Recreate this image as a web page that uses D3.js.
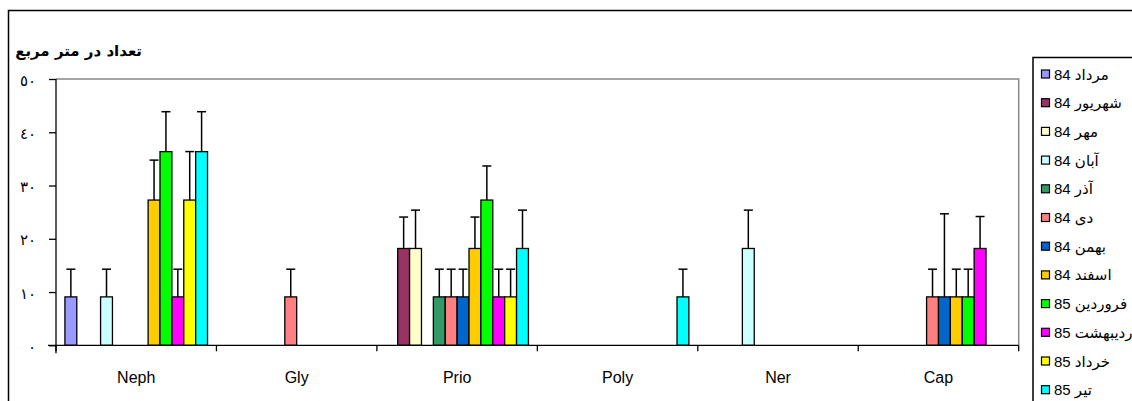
<!DOCTYPE html>
<html>
<head>
<meta charset="utf-8">
<script src="https://cdn.jsdelivr.net/npm/d3@7"></script>
<style>
  html, body { margin: 0; padding: 0; background: #fff; }
  svg { display: block; }
</style>
</head>
<body>
<svg id="chart" width="1132" height="401"></svg>
<script>
// ---- data ----
const categories = ["Neph", "Gly", "Prio", "Poly", "Ner", "Cap"];
const seriesNames = ["84 مرداد", "84 شهریور", "84 مهر", "84 آبان", "84 آذر", "84 دی",
                     "84 بهمن", "84 اسفند", "85 فروردین", "85 اردیبهشت", "85 خرداد", "85 تیر"];
const seriesColors = ["#9999FF", "#993366", "#FFFFCC", "#CCFFFF", "#339966", "#FF8080",
                      "#0066CC", "#FFCC00", "#00FF00", "#FF00FF", "#FFFF00", "#00FFFF"];
// values[series][category]
const valMordad   = [9.09, 0, 0, 0, 0, 0];
const valShahrivar= [0, 0, 18.18, 0, 0, 0];
const valMehr     = [0, 0, 18.18, 0, 0, 0];
const valAban     = [9.09, 0, 0, 0, 18.18, 0];
const valAzar     = [0, 0, 9.09, 0, 0, 0];
const valDey      = [0, 9.09, 9.09, 0, 0, 9.09];
const valBahman   = [0, 0, 9.09, 0, 0, 9.09];
const valEsfand   = [27.27, 0, 18.18, 0, 0, 9.09];
const valFarvardin= [36.36, 0, 27.27, 0, 0, 9.09];
const valOrdibehesht=[9.09, 0, 9.09, 0, 0, 18.18];
const valKhordad  = [27.27, 0, 9.09, 0, 0, 0];
const valTir      = [36.36, 0, 18.18, 9.09, 0, 0];
// upper error lengths
const errMordad   = [5.2, 0, 0, 0, 0, 0];
const errShahrivar= [0, 0, 5.9, 0, 0, 0];
const errMehr     = [0, 0, 7.2, 0, 0, 0];
const errAban     = [5.2, 0, 0, 0, 7.2, 0];
const errAzar     = [0, 0, 5.2, 0, 0, 0];
const errDey      = [0, 5.2, 5.2, 0, 0, 5.2];
const errBahman   = [0, 0, 5.2, 0, 0, 15.6];
const errEsfand   = [7.5, 0, 5.9, 0, 0, 5.2];
const errFarvardin= [7.5, 0, 6.4, 0, 0, 5.2];
const errOrdibehesht=[5.2, 0, 5.2, 0, 0, 6.0];
const errKhordad  = [9.1, 0, 5.2, 0, 0, 0];
const errTir      = [7.5, 0, 7.2, 5.2, 0, 0];
const yTicks = [0, 10, 20, 30, 40, 50];
const yTickLabels = ["٠", "١٠", "٢٠", "٣٠", "٤٠", "٥٠"];
const yTitle = "تعداد در متر مربع";

const values = [valMordad, valShahrivar, valMehr, valAban, valAzar, valDey, valBahman,
                valEsfand, valFarvardin, valOrdibehesht, valKhordad, valTir];
const errors = [errMordad, errShahrivar, errMehr, errAban, errAzar, errDey, errBahman,
                errEsfand, errFarvardin, errOrdibehesht, errKhordad, errTir];

// ---- layout ----
const svg = d3.select("#chart");
const plot = { left: 56, right: 1018.7, top: 79, bottom: 345.3 };

const x0 = d3.scaleBand().domain(categories).range([plot.left, plot.right]).padding(0);
const catW = x0.bandwidth();
const barW = catW / 13.5;
const x1 = d3.scaleBand().domain(d3.range(seriesNames.length))
  .range([barW * 0.75, barW * 0.75 + barW * 12]).padding(0);
const y = d3.scaleLinear().domain([0, 50]).range([plot.bottom, plot.top]);

// outer border
svg.append("rect").attr("x", 8.5).attr("y", 10.5).attr("width", 1130).attr("height", 400)
  .attr("fill", "none").attr("stroke", "#000").attr("stroke-width", 1.5);

// plot area border (top & right)
svg.append("path")
  .attr("d", `M${plot.left},${plot.top}H${plot.right}V${plot.bottom}`)
  .attr("fill", "none").attr("stroke", "#888").attr("stroke-width", 1.5);

// title
svg.append("text").attr("x", 142).attr("y", 56)
  .attr("text-anchor", "end")
  .attr("font-family", "DejaVu Sans, Noto Sans, sans-serif")
  .attr("font-weight", "bold").attr("font-size", 15)
  .text(yTitle);

// bars
const data = [];
categories.forEach((c, ci) => {
  seriesNames.forEach((s, si) => {
    data.push({ c, si, v: values[si][ci], e: errors[si][ci] });
  });
});

const g = svg.append("g");
g.selectAll("rect.bar").data(data).join("rect").attr("class", "bar")
  .attr("x", d => x0(d.c) + x1(d.si))
  .attr("y", d => y(d.v))
  .attr("width", x1.bandwidth())
  .attr("height", d => y(0) - y(d.v))
  .attr("fill", d => seriesColors[d.si])
  .attr("stroke", "#000").attr("stroke-width", 1.3);

// error bars
const eb = g.selectAll("g.err").data(data.filter(d => d.v > 0 && d.e > 0)).join("g").attr("class", "err");
eb.append("line")
  .attr("x1", d => x0(d.c) + x1(d.si) + x1.bandwidth() / 2)
  .attr("x2", d => x0(d.c) + x1(d.si) + x1.bandwidth() / 2)
  .attr("y1", d => y(d.v)).attr("y2", d => y(d.v + d.e))
  .attr("stroke", "#000").attr("stroke-width", 1.5);
eb.append("line")
  .attr("x1", d => x0(d.c) + x1(d.si) + x1.bandwidth() / 2 - 4.5)
  .attr("x2", d => x0(d.c) + x1(d.si) + x1.bandwidth() / 2 + 4.5)
  .attr("y1", d => y(d.v + d.e)).attr("y2", d => y(d.v + d.e))
  .attr("stroke", "#000").attr("stroke-width", 1.5);

// x axis
const xAxis = d3.axisBottom(x0).tickSize(0).tickPadding(0);
const xg = svg.append("g").attr("transform", `translate(0,${plot.bottom})`).call(xAxis);
xg.select(".domain").remove();
xg.append("line").attr("x1", plot.left - 8).attr("x2", plot.right).attr("y1", 0).attr("y2", 0)
  .attr("stroke", "#000").attr("stroke-width", 1.3);
// boundary ticks
const bounds = categories.map(c => x0(c)).concat([plot.right]);
xg.selectAll("line.bt").data(bounds).join("line").attr("class", "bt")
  .attr("x1", d => d).attr("x2", d => d).attr("y1", 0).attr("y2", 6)
  .attr("stroke", "#000").attr("stroke-width", 1.3);
xg.selectAll(".tick text")
  .attr("y", 38)
  .attr("dy", 0)
  .attr("font-family", "Liberation Sans, Arial, sans-serif")
  .attr("font-size", 16).attr("fill", "#000");

// y axis
const yAxis = d3.axisLeft(y).tickValues(yTicks).tickSize(7).tickPadding(0)
  .tickFormat((d, i) => yTickLabels[i]);
const yg = svg.append("g").attr("transform", `translate(${plot.left},0)`).call(yAxis);
yg.select(".domain").attr("stroke", "#000").attr("stroke-width", 1.3)
  .attr("d", `M0,${plot.top}V${plot.bottom + 8}`);
yg.selectAll(".tick line").attr("stroke", "#000").attr("stroke-width", 1.3);
yg.selectAll(".tick text")
  .attr("x", -20).attr("dy", "0.4em").attr("text-anchor", "end")
  .attr("font-family", "DejaVu Sans, sans-serif")
  .attr("font-size", 15).attr("fill", "#000")
  .attr("letter-spacing", 5).attr("direction", "ltr");

// legend
const lg = svg.append("g");
lg.append("path").attr("d", "M1033,410V57.5H1140")
  .attr("fill", "none").attr("stroke", "#000").attr("stroke-width", 1.5);
const items = lg.selectAll("g.li").data(seriesNames).join("g").attr("class", "li")
  .attr("transform", (d, i) => `translate(1041,${74 + i * 28.7})`);
items.append("rect").attr("x", 0.5).attr("y", -4).attr("width", 8).attr("height", 8)
  .attr("fill", (d, i) => seriesColors[i]).attr("stroke", "#000").attr("stroke-width", 1.2);
items.append("text").attr("x", 13).attr("y", 5.5)
  .attr("font-family", "Liberation Sans, DejaVu Sans, Arial, sans-serif")
  .attr("font-size", 15).attr("direction", "ltr").attr("unicode-bidi", "embed")
  .text(d => d);
</script>
</body>
</html>
